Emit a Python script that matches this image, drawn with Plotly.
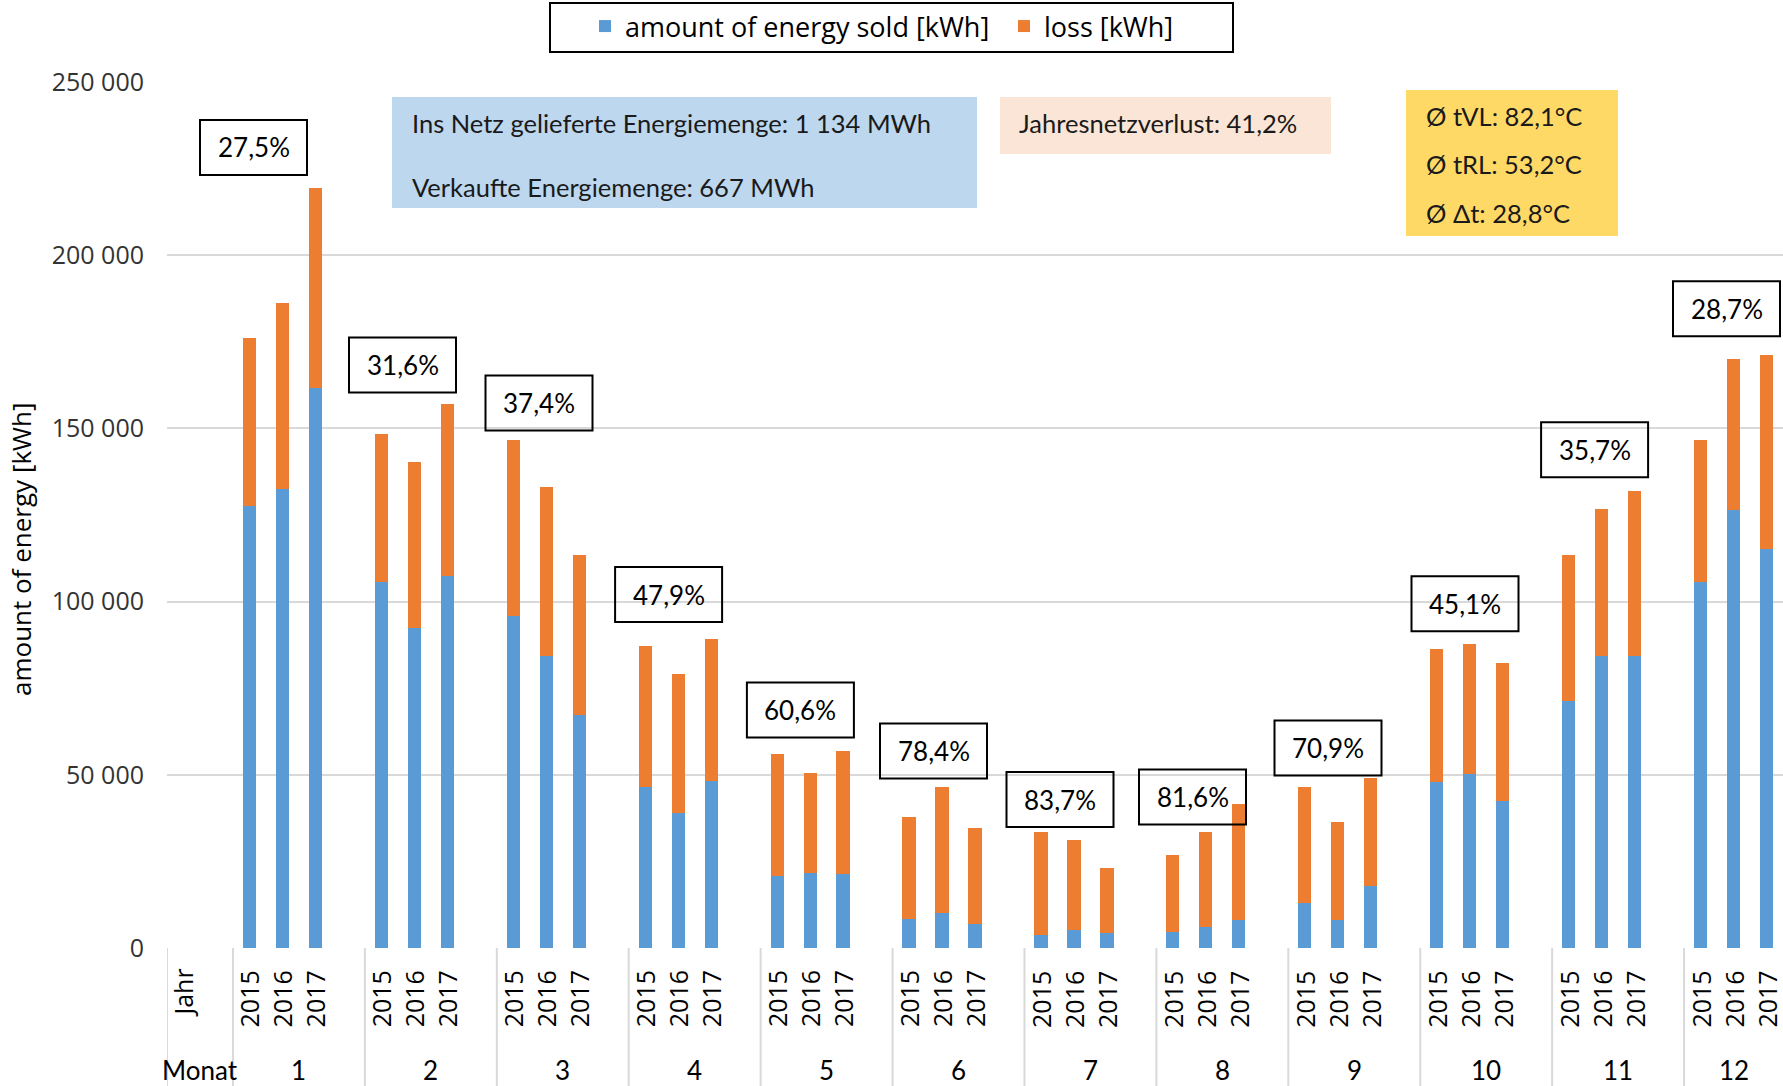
import plotly.graph_objects as go

# ---------------- data ----------------
months = [1, 2, 3, 4, 5, 6, 7, 8, 9, 10, 11, 12]
years = ["2015", "2016", "2017"]

sold_2015 = [127600, 105600, 95800, 46600, 20700, 8400, 3800, 4500, 12900, 47900, 71200, 105700]
sold_2016 = [132500, 92500, 84300, 39000, 21600, 10100, 5300, 6000, 8100, 50200, 84200, 126400]
sold_2017 = [161700, 107300, 67300, 48200, 21300, 7000, 4200, 8100, 17800, 42300, 84200, 115200]

loss_2015 = [48400, 42900, 50900, 40700, 35400, 29300, 29700, 22400, 33600, 38400, 42300, 41000]
loss_2016 = [53600, 47900, 48800, 40100, 29000, 36400, 25800, 27500, 28200, 37500, 42500, 43600]
loss_2017 = [57600, 49800, 46200, 41000, 35600, 27600, 18800, 33400, 31400, 40100, 47800, 55900]

loss_pct_labels = ["27,5%", "31,6%", "37,4%", "47,9%", "60,6%", "78,4%",
                   "83,7%", "81,6%", "70,9%", "45,1%", "35,7%", "28,7%"]

y_ticks = [0, 50000, 100000, 150000, 200000, 250000]
y_tick_labels = ["0", "50 000", "100 000", "150 000", "200 000", "250 000"]

info_blue = ["Ins Netz gelieferte Energiemenge: 1 134 MWh", "Verkaufte Energiemenge: 667 MWh"]
info_peach = ["Jahresnetzverlust: 41,2%"]
info_yellow = ["Ø tVL: 82,1°C", "Ø tRL: 53,2°C", "Ø Δt: 28,8°C"]

# ---------------- layout geometry ----------------
W, H = 1783, 1086
ML, MR, MT, MB = 167, 0, 82, 138
PW, PH = W - ML - MR, H - MT - MB
N_SLOTS = 49  # 2 header slots + 11*4 + 3


def px(x):
    return (x - ML) / PW


def py(y):
    return (H - MB - y) / PH


def slot_of(mi, yi):
    return 2 + mi * 4 + yi + 0.5


sold_by_year = [sold_2015, sold_2016, sold_2017]
loss_by_year = [loss_2015, loss_2016, loss_2017]

xs, sold_vals, loss_vals = [], [], []
for mi in range(len(months)):
    for yi in range(len(years)):
        xs.append(slot_of(mi, yi))
        sold_vals.append(sold_by_year[yi][mi])
        loss_vals.append(loss_by_year[yi][mi])

BLUE = "#5B9BD5"
ORANGE = "#ED7D31"
GRID = "#D9D9D9"

fig = go.Figure()
fig.add_trace(go.Bar(x=xs, y=sold_vals, name="amount of energy sold [kWh]",
                     marker=dict(color=BLUE, line=dict(width=0)), width=0.4))
fig.add_trace(go.Bar(x=xs, y=loss_vals, name="loss [kWh]",
                     marker=dict(color=ORANGE, line=dict(width=0)), width=0.4))

shapes = []
annotations = []

# category table dividers
div_slots = [0, 2] + [2 + 4 * k for k in range(1, 12)]
for s in div_slots:
    shapes.append(dict(type="line", xref="x", yref="paper", x0=s, x1=s,
                       y0=0, y1=py(H), line=dict(color=GRID, width=2), layer="below"))

# legend frame
shapes.append(dict(type="rect", xref="paper", yref="paper",
                   x0=px(550), x1=px(1233), y0=py(52), y1=py(3),
                   fillcolor="#FFFFFF", line=dict(color="#000000", width=2), layer="above"))

AX_FONT = "Open Sans"
CAL_FONT = "Lato"

# year labels
for mi in range(len(months)):
    for yi, yr in enumerate(years):
        annotations.append(dict(x=slot_of(mi, yi), xref="x", y=py(999), yref="paper",
                                text=yr, textangle=-90, showarrow=False,
                                xanchor="center", yanchor="middle",
                                font=dict(family=AX_FONT, size=25, color="#000000")))
annotations.append(dict(x=0.5, xref="x", y=py(992), yref="paper", text="Jahr",
                        textangle=-90, showarrow=False, xanchor="center", yanchor="middle",
                        font=dict(family=AX_FONT, size=25, color="#000000")))
# month labels
annotations.append(dict(x=1, xref="x", y=py(1070), yref="paper", text="Monat",
                        showarrow=False, xanchor="center", yanchor="middle",
                        font=dict(family=CAL_FONT, size=26, color="#000000")))
for mi, m in enumerate(months):
    left = 2 + mi * 4
    right = min(left + 4, N_SLOTS)
    annotations.append(dict(x=(left + right) / 2, xref="x", y=py(1070), yref="paper",
                            text=str(m), showarrow=False, xanchor="center", yanchor="middle",
                            font=dict(family=CAL_FONT, size=26, color="#000000")))

# y-axis title
annotations.append(dict(x=px(21), xref="paper", y=py(549), yref="paper",
                        text="amount of energy [kWh]", textangle=-90, showarrow=False,
                        xanchor="center", yanchor="middle",
                        font=dict(family=AX_FONT, size=26, color="#000000")))

# percentage boxes (pixel centres): white fill above gridlines/below bars, border on top
pct_centres = [(253.5, 147.5), (402.5, 365), (539, 403), (668.6, 594.6), (800.4, 710),
               (933.5, 751), (1060, 799.5), (1192.5, 797), (1328, 748), (1465, 603.7),
               (1594.6, 449.7), (1726.5, 308.7)]
BW, BH = 107, 55
for (cx, cy), lab in zip(pct_centres, loss_pct_labels):
    rect = dict(type="rect", xref="paper", yref="paper",
                x0=px(cx - BW / 2), x1=px(cx + BW / 2),
                y0=py(cy + BH / 2), y1=py(cy - BH / 2))
    shapes.append(dict(rect, fillcolor="#FFFFFF", line=dict(width=0), layer="between"))
    shapes.append(dict(rect, fillcolor="rgba(0,0,0,0)",
                       line=dict(color="#000000", width=2), layer="above"))
    annotations.append(dict(x=px(cx), xref="paper", y=py(cy), yref="paper", text=lab,
                            showarrow=False, xanchor="center", yanchor="middle",
                            font=dict(family=CAL_FONT, size=26, color="#000000")))

# info boxes
boxes = [((392, 97, 977, 208), "#BDD7EE"),
         ((1000, 97, 1331, 154), "#FBE5D6"),
         ((1406, 90, 1618, 236), "#FFD966")]
for (x0, y0, x1, y1), col in boxes:
    shapes.append(dict(type="rect", xref="paper", yref="paper",
                       x0=px(x0), x1=px(x1), y0=py(y1), y1=py(y0),
                       fillcolor=col, line=dict(width=0), layer="above"))

info_lines = [(410, 123, info_blue[0]), (410, 187, info_blue[1]),
              (1017, 123, info_peach[0]),
              (1424, 116, info_yellow[0]), (1424, 164, info_yellow[1]), (1424, 213, info_yellow[2])]
for x, y, t in info_lines:
    annotations.append(dict(x=px(x), xref="paper", y=py(y), yref="paper", text=t,
                            showarrow=False, xanchor="left", yanchor="middle",
                            font=dict(family=CAL_FONT, size=25.5, color="#1a1a1a")))

fig.update_layout(
    width=W, height=H,
    margin=dict(l=ML, r=MR, t=MT, b=MB, pad=0),
    paper_bgcolor="#FFFFFF", plot_bgcolor="#FFFFFF",
    barmode="stack", bargap=0,
    showlegend=True,
    legend=dict(orientation="h", x=px(585), xanchor="left", y=py(2), yanchor="top",
                borderwidth=0, bgcolor="rgba(0,0,0,0)",
                traceorder="normal", entrywidth=374, entrywidthmode="pixels",
                font=dict(family=AX_FONT, size=27, color="#000000")),
    xaxis=dict(range=[0, N_SLOTS], showgrid=False, zeroline=False, showticklabels=False,
               showline=False, ticks="", fixedrange=True),
    yaxis=dict(range=[0, 250000], tickvals=y_ticks, ticktext=y_tick_labels,
               showgrid=True, gridcolor=GRID, gridwidth=2, zeroline=False, showline=False,
               ticks="", ticklabelstandoff=22,
               tickfont=dict(family=AX_FONT, size=25, color="#333333")),
    shapes=shapes,
    annotations=annotations,
)

fig.write_html("out.html", config={"displayModeBar": False},
               post_script="document.body.style.margin='0';document.body.style.overflow='hidden';")
